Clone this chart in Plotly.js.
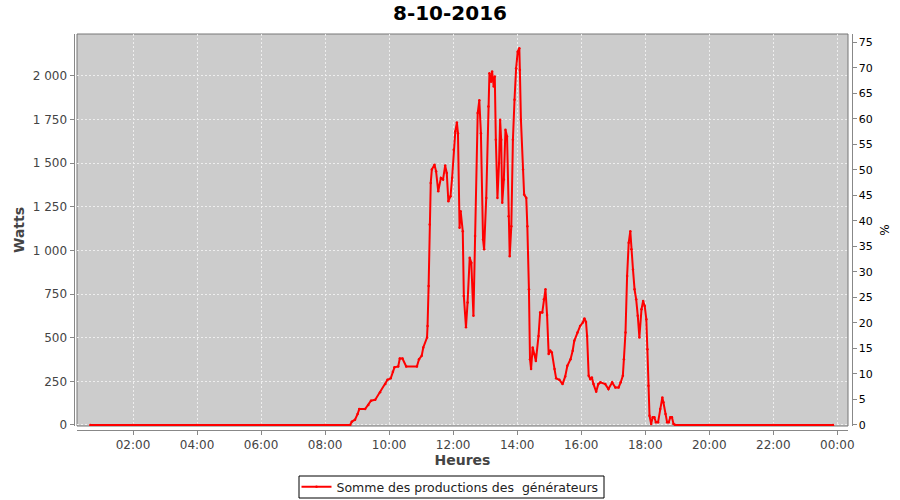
<!DOCTYPE html>
<html><head><meta charset="utf-8">
<script src="https://cdn.plot.ly/plotly-3.0.1.min.js"></script>
<style>html,body{margin:0;padding:0;background:#fff}</style>
</head><body><div id="chart" style="width:900px;height:500px"></div>
<script>
const chartTitle = '8-10-2016';
const day = '2016-10-08';
const nextDay = '2016-10-09';
const seriesName = 'Somme des productions des \u00a0générateurs';
const times = ['00:40','02:00','04:00','06:00','08:00','08:47','08:50','08:56','09:01','09:04','09:15','09:21','09:26','09:34','09:43','09:53','09:57','10:03','10:07','10:10','10:17','10:20','10:25','10:32','10:52','10:56','11:01','11:04','11:11','11:12','11:14','11:16','11:18','11:20','11:25','11:28','11:32','11:37','11:41','11:45','11:48','11:51','11:55','11:58','12:01','12:04','12:07','12:09','12:12','12:14','12:18','12:20','12:24','12:27','12:31','12:34','12:38','12:41','12:46','12:49','12:52','12:56','12:58','13:02','13:06','13:08','13:11','13:13','13:16','13:18','13:20','13:23','13:26','13:28','13:30','13:32','13:35','13:38','13:41','13:44','13:46','13:49','13:52','13:55','13:58','14:01','14:04','14:05','14:07','14:11','14:13','14:17','14:19','14:22','14:24','14:26','14:29','14:32','14:35','14:40','14:43','14:47','14:50','14:53','14:56','14:59','15:02','15:05','15:10','15:13','15:19','15:25','15:30','15:34','15:40','15:44','15:47','15:53','15:58','16:03','16:06','16:09','16:11','16:14','16:17','16:20','16:23','16:28','16:32','16:36','16:45','16:51','16:58','17:04','17:10','17:14','17:18','17:20','17:23','17:26','17:29','17:32','17:34','17:37','17:40','17:43','17:46','17:49','17:53','17:56','17:59','18:02','18:04','18:06','18:08','18:11','18:14','18:17','18:20','18:24','18:28','18:32','18:34','18:38','18:41','18:44','18:47','18:50','18:53','18:56','20:00','22:00','23:52'];
const watts = [0,0,0,0,0,0,19,30,63,91,91,114,139,145,187,234,259,267,305,330,335,381,381,335,335,377,396,444,501,567,796,1149,1387,1463,1491,1453,1339,1415,1406,1486,1444,1282,1310,1415,1577,1682,1733,1672,1130,1225,1110,739,560,701,958,930,625,1082,1787,1860,1672,1063,1006,1301,1825,2015,1967,2025,1939,1996,1634,1301,1501,1749,1634,1273,1406,1691,1653,1196,967,1139,1634,1863,2044,2139,2158,2034,1749,1463,1320,1301,1139,777,377,320,444,406,367,510,644,644,720,777,630,406,425,415,320,267,259,234,278,339,377,425,482,530,567,587,610,590,510,282,263,272,234,190,234,244,234,206,244,215,215,244,282,377,530,853,1044,1110,1006,891,777,720,625,501,663,710,682,606,434,225,53,6,44,44,15,15,91,158,130,63,15,15,44,44,6,0,0,0,0];
const wattTicks = [0,250,500,750,1000,1250,1500,1750,2000];

const x = times.map(t => day + ' ' + t);
const tickFont = {family:'DejaVu Sans', size:12, color:'#444'};
const gridStyle = {showgrid:true, gridcolor:'#eeeeee', griddash:'2px,2px', gridwidth:1};

const data = [{
  type:'scatter', mode:'lines+markers', x:x, y:watts, name:seriesName,
  line:{color:'#ff0000', width:2}, marker:{color:'#ff0000', size:2.5},
  yaxis:'y'
},{
  type:'scatter', mode:'lines', x:[], y:[], yaxis:'y2', showlegend:false, hoverinfo:'skip'
}];

const layout = {
  width:900, height:500,
  margin:{l:0,r:0,t:0,b:0, autoexpand:false},
  paper_bgcolor:'#ffffff', plot_bgcolor:'#cccccc',
  separators:', ',
  font:{family:'DejaVu Sans', size:12, color:'#444'},
  title:{text:'<b>'+chartTitle+'</b>', font:{family:'DejaVu Sans', size:20, color:'#000'},
         x:0.5, xanchor:'center', y:0.974, yanchor:'middle', yref:'container'},
  xaxis:Object.assign({
    type:'date', domain:[77/900, 848/900], anchor:'free', position:1-430/500,
    range:[day+' 00:15', nextDay+' 00:20'],
    dtick:7200000, tick0:day+' 00:00', tickformat:'%H:%M',
    ticks:'outside', ticklen:4, tickcolor:'#888', tickfont:tickFont,
    showline:true, linecolor:'#888', linewidth:1,
    zeroline:false,
    title:{text:'<b>Heures</b>', font:{family:'DejaVu Sans', size:14, color:'#444'}, standoff:3},
    automargin:false
  }, gridStyle),
  yaxis:Object.assign({
    domain:[1-426/500, 1-34/500], anchor:'free', position:73.5/900,
    range:[-6, 2240], tickvals:wattTicks, tickformat:',d',
    ticks:'outside', ticklen:4, tickcolor:'#888', tickfont:tickFont,
    showline:true, linecolor:'#888', linewidth:1,
    zeroline:false,
    title:{text:'<b>Watts</b>', font:{family:'DejaVu Sans', size:14, color:'#444'}, standoff:3},
    automargin:false
  }, gridStyle),
  yaxis2:{
    overlaying:'y', side:'right', anchor:'free', position:851.5/900,
    range:[-0.2, 76.6], dtick:5, tick0:0,
    ticks:'outside', ticklen:4, tickcolor:'#888',
    tickfont:{family:'DejaVu Sans', size:11, color:'#000'},
    showline:true, linecolor:'#888', linewidth:1,
    showgrid:false, zeroline:false,
    title:{text:'%', font:{family:'DejaVu Sans', size:12, color:'#000'}, standoff:8},
    automargin:false
  },
  shapes:[
    {type:'rect', xref:'x domain', yref:'y domain', x0:0, x1:1, y0:0, y1:1,
     line:{color:'#777777', width:1}, layer:'below'},
    {type:'rect', xref:'paper', yref:'paper', x0:299/900, x1:604/900, y0:1-498/500, y1:1-476/500,
     line:{color:'#000000', width:1}, fillcolor:'rgba(0,0,0,0)', layer:'above'}
  ],
  showlegend:true,
  legend:{x:0.5, xanchor:'center', y:1-487/500, yanchor:'middle', orientation:'h',
          bgcolor:'rgba(0,0,0,0)', borderwidth:0,
          font:{family:'DejaVu Sans', size:12.5, color:'#222'}, itemwidth:30}
};

Plotly.newPlot('chart', data, layout, {displayModeBar:false, staticPlot:true});
</script></body></html>
